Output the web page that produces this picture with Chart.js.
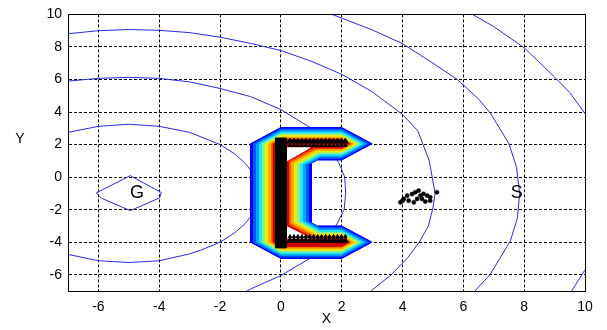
<!DOCTYPE html>
<html>
<head>
<meta charset="utf-8">
<script src="https://cdn.jsdelivr.net/npm/chart.js@4.4.1/dist/chart.umd.min.js"></script>
<style>
  html, body { margin: 0; padding: 0; background: #fff; }
  #wrap { width: 607px; height: 330px; }
</style>
</head>
<body>
<div id="wrap"><canvas id="chart"></canvas></div>
<script>
// --- tick labels ---
const xTicks = [-6, -4, -2, 0, 2, 4, 6, 8, 10];
const yTicks = [-6, -4, -2, 0, 2, 4, 6, 8, 10];

// --- potential contours around the goal (x, y) ---
const contour1 = [[-6.07, -0.97], [-4.95, 0.09], [-3.93, -0.95], [-3.99, -1.28], [-4.95, -2.06], [-5.9, -1.3], [-6.07, -0.97]];
const contour2 = [[-7, 2.75], [-6, 3.12], [-5, 3.25], [-4, 3.12], [-3, 2.75], [-2, 2.0], [-1.5, 1.4], [-1.17, 0.84],
  [-0.9, 0.2], [-0.75, -1], [-0.9, -2.2], [-1.17, -2.85], [-1.5, -3.4], [-2, -4.0], [-2.65, -4.5], [-3, -4.72],
  [-4, -5.14], [-5, -5.25], [-6, -5.14], [-7, -4.75]];
const contour3 = [[-7, 5.9], [-6, 6.07], [-5, 6.13], [-4, 6.07], [-3, 5.85], [-2, 5.45], [-1, 4.95], [0, 4.15],
  [1, 3.0], [1.5, 2.1], [1.9, 0.9], [2.1, 0], [2.13, -1], [2.08, -2], [1.85, -2.85], [1.5, -3.95], [0.95, -5.0],
  [0, -6.05], [-1, -6.88], [-1.12, -7]];
const contour4 = [[-7, 8.81], [-6, 9.0], [-5, 9.07], [-4, 9.02], [-3, 8.88], [-2, 8.6], [-1, 8.22], [0, 7.78],
  [1, 7.12], [2, 6.32], [3, 5.25], [4, 3.85], [4.5, 2.85], [4.88, 1.0], [5.07, -1], [5.0, -1.9], [4.85, -3],
  [4.55, -4], [4.15, -5], [3.63, -6], [2.96, -7]];
const contour5 = [[1.68, 10], [3, 9.05], [4, 8.2], [5, 7.0], [5.8, 6.0], [6.5, 4.8], [6.9, 3.9], [7.5, 2.05],
  [7.75, 0.6], [7.85, -1], [7.78, -2.5], [7.55, -3.9], [7.2, -5], [6.89, -5.96], [6.38, -7]];
const contour6a = [[6.3, 10], [7, 9.25], [8, 7.95], [9, 6.15], [9.5, 5.2], [10, 3.9]];
const contour6b = [[10, -5.7], [9.78, -6.35], [9.56, -7]];

// --- obstacle (C shape) filled levels, outer to inner ---
const band100 = [[-1, 2.05], [0, 3.05], [2, 3.05], [3, 2.05], [2, 1.05], [1.2, 1.05], [1, 0.85], [1, -2.8], [1.2, -3.0], [2, -3.0], [3, -4], [2, -5], [0, -5], [-1, -4], [-1, 2.05]];
const band090 = [[-0.9, 2.05], [0, 2.95], [2, 2.95], [2.9, 2.05], [2, 1.15], [1.27, 1.15], [0.9, 0.78], [0.9, -2.73], [1.27, -3.1], [2, -3.1], [2.9, -4], [2, -4.9], [0, -4.9], [-0.9, -4], [-0.9, 2.05]];
const band080 = [[-0.8, 2.05], [0, 2.85], [2, 2.85], [2.8, 2.05], [2, 1.25], [1.3, 1.25], [0.8, 0.75], [0.8, -2.7], [1.3, -3.2], [2, -3.2], [2.8, -4], [2, -4.8], [0, -4.8], [-0.8, -4], [-0.8, 2.05]];
const band070 = [[-0.7, 2.05], [0, 2.75], [2, 2.75], [2.7, 2.05], [2, 1.35], [1.29, 1.35], [0.7, 0.76], [0.7, -2.71], [1.29, -3.3], [2, -3.3], [2.7, -4], [2, -4.7], [0, -4.7], [-0.7, -4], [-0.7, 2.05]];
const band060 = [[-0.6, 2.05], [0, 2.65], [2, 2.65], [2.6, 2.05], [2, 1.45], [1.27, 1.45], [0.6, 0.78], [0.6, -2.73], [1.27, -3.4], [2, -3.4], [2.6, -4], [2, -4.6], [0, -4.6], [-0.6, -4], [-0.6, 2.05]];
const band050 = [[-0.5, 2.05], [0, 2.55], [2, 2.55], [2.5, 2.05], [2, 1.55], [1.25, 1.55], [0.5, 0.8], [0.5, -2.75], [1.25, -3.5], [2, -3.5], [2.5, -4], [2, -4.5], [0, -4.5], [-0.5, -4], [-0.5, 2.05]];
const band040 = [[-0.4, 2.05], [0, 2.45], [2, 2.45], [2.4, 2.05], [2, 1.65], [1.2, 1.65], [0.4, 0.85], [0.4, -2.8], [1.2, -3.6], [2, -3.6], [2.4, -4], [2, -4.4], [0, -4.4], [-0.4, -4], [-0.4, 2.05]];
const band030 = [[-0.3, 2.05], [0, 2.35], [2, 2.35], [2.3, 2.05], [2, 1.75], [1.15, 1.75], [0.3, 0.9], [0.3, -2.85], [1.15, -3.7], [2, -3.7], [2.3, -4], [2, -4.3], [0, -4.3], [-0.3, -4], [-0.3, 2.05]];
const band025 = [[-0.25, 2.05], [0, 2.3], [2, 2.3], [2.25, 2.05], [2, 1.8], [1.05, 1.8], [0.25, 1.0], [0.25, -2.95], [1.05, -3.75], [2, -3.75], [2.25, -4], [2, -4.25], [0, -4.25], [-0.25, -4], [-0.25, 2.05]];
const bandColors = ['#0000ff', '#0058ff', '#00a8ff', '#20e8f0', '#90f090', '#e8f000', '#ffa800', '#ff5000', '#d00000'];
const bandShapes = [band100, band090, band080, band070, band060, band050, band040, band030, band025];

// unfilled corners and the obstacle core
const holeTop = [[0.15, 1.8], [0.95, 1.8], [0.15, 0.95], [0.15, 1.8]];
const holeBottom = [[0.15, -3.0], [0.15, -3.75], [0.95, -3.75], [0.15, -3.0]];
const coreBar = [[-0.18, 2.4], [0.18, 2.4], [0.18, -4.35], [-0.18, -4.35], [-0.18, 2.4]];
const armMarkX = [0.3, 0.43, 0.56, 0.69, 0.82, 0.95, 1.08, 1.21, 1.34, 1.47, 1.6, 1.73, 1.86, 1.99, 2.12];
const armRowsBig = [2.2, -3.9];
const armRowsSmall = [1.95, -3.65];

// --- start cluster near S ---
const cluster = [[3.93, -1.55], [4.0, -1.45], [4.04, -1.34], [4.15, -1.14], [4.2, -1.45], [4.31, -1.04],
  [4.37, -1.55], [4.42, -0.93], [4.48, -1.34], [4.53, -0.83], [4.59, -1.14], [4.64, -1.34], [4.69, -1.03],
  [4.75, -1.5], [4.81, -1.14], [4.91, -1.24], [4.91, -1.45], [5.13, -0.93]];

const pointLabels = [{ text: 'G', x: -4.73, y: -1.0 }, { text: 'S', x: 7.76, y: -0.95 }];

const FONT = '"Liberation Sans", Arial, Helvetica, sans-serif';
const toXY = arr => arr.map(p => ({ x: p[0], y: p[1] }));

const datasets = [];
// contour lines (bottom layer)
[contour1, contour2, contour3, contour4, contour5, contour6a, contour6b].forEach(c => {
    datasets.push({
        data: toXY(c), showLine: true, fill: false,
        borderColor: '#2a2ae6', borderWidth: 1, pointRadius: 0
    });
});
// obstacle levels
bandShapes.forEach((shape, i) => {
    datasets.push({
        data: toXY(shape), showLine: true, fill: 'shape',
        backgroundColor: bandColors[i], borderColor: bandColors[i], borderWidth: 1, pointRadius: 0
    });
});
[holeTop, holeBottom].forEach(h => {
    datasets.push({
        data: toXY(h), showLine: true, fill: 'shape',
        backgroundColor: '#ffffff', borderColor: '#ffffff', borderWidth: 1, pointRadius: 0
    });
});
datasets.push({
    data: toXY(coreBar), showLine: true, fill: 'shape',
    backgroundColor: '#000000', borderColor: '#000000', borderWidth: 1, pointRadius: 0
});
armRowsSmall.forEach(yv => {
    datasets.push({
        data: armMarkX.map(xv => ({ x: xv, y: yv })),
        pointStyle: 'triangle', pointRadius: 2, backgroundColor: '#000', borderColor: '#000', borderWidth: 1
    });
});
armRowsBig.forEach(yv => {
    datasets.push({
        data: armMarkX.map(xv => ({ x: xv, y: yv })),
        pointStyle: 'triangle', pointRadius: 3.2, backgroundColor: '#000', borderColor: '#000', borderWidth: 1
    });
});
datasets.push({
    data: toXY(cluster), pointStyle: 'circle', pointRadius: 2.1,
    backgroundColor: '#000', borderColor: '#000', borderWidth: 0.5
});
// later entries are drawn on top
datasets.forEach((d, i) => { d.order = datasets.length - i; });

const overlay = {
    id: 'overlay',
    afterDraw(chart) {
        const { ctx, chartArea: a, scales: { x, y } } = chart;
        ctx.save();
        ctx.strokeStyle = '#000';
        ctx.lineWidth = 1;
        ctx.strokeRect(Math.round(a.left) + 0.5, Math.round(a.top) + 0.5,
            Math.round(a.right - a.left), Math.round(a.bottom - a.top));
        ctx.fillStyle = '#000';
        ctx.textAlign = 'center';
        ctx.textBaseline = 'middle';
        ctx.font = '18px ' + FONT;
        pointLabels.forEach(p => ctx.fillText(p.text, x.getPixelForValue(p.x), y.getPixelForValue(p.y)));
        ctx.font = '14px ' + FONT;
        ctx.fillText('Y', 20, 139);
        ctx.restore();
    }
};

const axisCommon = {
    type: 'linear', min: -7, max: 10,
    grid: { color: '#000', lineWidth: 1, drawTicks: false },
    border: { display: true, color: '#000', width: 1, dash: [3, 2] },
    ticks: { color: '#000', font: { family: FONT, size: 14 }, padding: 6, maxRotation: 0, autoSkip: false }
};

new Chart(document.getElementById('chart'), {
    type: 'scatter',
    data: { datasets: datasets },
    options: {
        responsive: true,
        maintainAspectRatio: false,
        animation: false,
        layout: { padding: { top: 14, right: 22, left: 0, bottom: 0 } },
        plugins: { legend: { display: false }, tooltip: { enabled: false } },
        scales: {
            x: Object.assign({}, axisCommon, {
                afterBuildTicks: axis => { axis.ticks = xTicks.map(v => ({ value: v })); },
                afterFit: s => { s.height = 39; },
                ticks: Object.assign({}, axisCommon.ticks, { padding: 8 }),
                title: { display: true, text: 'X', color: '#000', font: { family: FONT, size: 14 }, padding: { top: 0, bottom: 2 } }
            }),
            y: Object.assign({}, axisCommon, {
                afterBuildTicks: axis => { axis.ticks = yTicks.map(v => ({ value: v })); },
                afterFit: s => { s.width = 68; }
            })
        }
    },
    plugins: [overlay]
});
</script>
</body>
</html>
